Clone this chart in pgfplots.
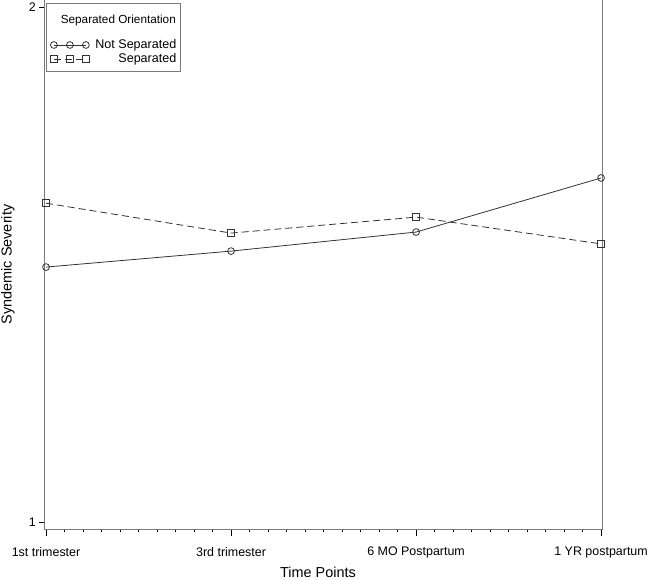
\documentclass[border=0pt]{standalone}
\usepackage{fontspec}
\setmainfont{Liberation Sans}
\usepackage{pgfplots}
\pgfplotsset{compat=1.18}
\definecolor{ink}{HTML}{333333}
\definecolor{frame}{HTML}{7A7A7A}

\begin{document}
\begin{tikzpicture}
\useasboundingbox (-44bp,-51bp) rectangle (609bp,529bp);
\begin{axis}[
    scale only axis,
    width=558bp, height=529bp,
    xmin=-0.011, xmax=3.005,
    ymin=0.98641, ymax=2.01359,
    xtick={0,1,2,3},
    xticklabels={1st trimester,3rd trimester,6 MO Postpartum,1 YR postpartum},
    minor x tick num=9,
    ytick={1,2},
    xtick pos=left, ytick pos=left,
    tick align=outside,
    major tick length=7bp, minor tick length=3.5bp,
    ytick style={/pgfplots/major tick length=5bp},
    tick style={black, line width=0.6bp},
    axis line style={frame, line width=1bp},
    tick label style={font=\fontsize{12.5}{14}\selectfont},
    /pgf/number format/assume math mode=true,
    xticklabel style={anchor=north, inner sep=0pt, yshift=-11bp},
    yticklabel style={anchor=east, inner sep=1bp},
    xlabel={Time Points},
    xlabel style={font=\fontsize{14.5}{16}\selectfont, at={(axis description cs:0.5,0)}, anchor=base, yshift=-48bp, xshift=-5bp},
    ylabel={Syndemic Severity},
    ylabel style={font=\fontsize{14.5}{16}\selectfont, at={(axis description cs:0,0.5)}, anchor=north, inner sep=0pt, yshift=43bp},
    legend cell align=right,
    legend style={at={(rel axis cs:0.2402,0.9282)}, anchor=north east, draw=none, fill=none,
        font=\fontsize{12.6}{14}\selectfont, inner sep=0pt, row sep=0.5bp,
        nodes={inner sep=1.5bp}},
    legend image code/.code={
        \draw[#1] plot coordinates {(0bp,0bp) (16bp,0bp) (32bp,0bp)};
        \path[draw=none, fill=none] (0bp,0bp) rectangle (40bp,0bp);},
    after end axis/.code={
        \draw[black, line width=1bp] (rel axis cs:0,1) -- (rel axis cs:1,1);
        \draw[frame, line width=0.6bp] (rel axis cs:0.0036,0.9943) rectangle (rel axis cs:0.2437,0.8658);
        \node[anchor=base east, inner sep=0pt, font=\fontsize{11.8}{13}\selectfont] at (rel axis cs:0.2366,0.9565) {Separated Orientation};
    },
]
\addplot[ink, line width=0.8bp, mark=o, mark size=3.4bp, mark options={solid}]
    coordinates {(0,1.495) (1,1.526) (2,1.563) (3,1.668)};
\addlegendentry{Not Separated}

\addplot[ink, line width=0.8bp, dash pattern=on 7bp off 4bp, mark=square, mark size=3.4bp, mark options={solid}]
    coordinates {(0,1.619) (1,1.561) (2,1.592) (3,1.540)};
\addlegendentry{Separated}
\end{axis}
\end{tikzpicture}
\end{document}
